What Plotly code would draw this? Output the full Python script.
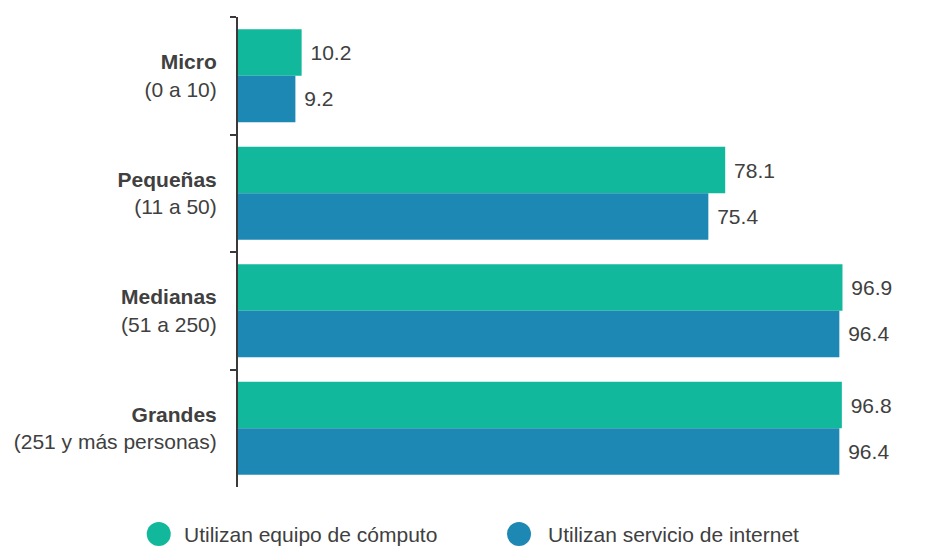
import plotly.graph_objects as go

categories = ["<b>Micro</b><br>(0 a 10)", "<b>Pequeñas</b><br>(11 a 50)",
              "<b>Medianas</b><br>(51 a 250)", "<b>Grandes</b><br>(251 y más personas)"]
equipo = [10.2, 78.1, 96.9, 96.8]
internet = [9.2, 75.4, 96.4, 96.4]
series_names = ["Utilizan equipo de cómputo", "Utilizan servicio de internet"]
colors = ["#12B89C", "#1E88B4"]
text_color = "#404040"
font_family = "Liberation Sans, Arial, sans-serif"

fig = go.Figure()
for vals, name, col in zip([equipo, internet], series_names, colors):
    fig.add_trace(go.Bar(
        y=categories, x=vals, orientation="h", name=name,
        marker=dict(color=col, line=dict(width=0)),
        text=["\u00a0" + f"{v:.1f}" for v in vals], textposition="outside",
        textfont=dict(size=21, color=text_color, family=font_family),
        cliponaxis=False, showlegend=False, hoverinfo="x+y",
    ))

# Legend drawn as circles + labels below the plot
legend_y = -0.1
legend_pos = [(-0.121, -0.085), (0.429, 0.470)]
for (cx, tx), name, col in zip(legend_pos, series_names, colors):
    fig.add_shape(type="circle", xref="paper", yref="paper",
                  xsizemode="pixel", ysizemode="pixel",
                  xanchor=cx, yanchor=legend_y,
                  x0=-12, x1=12, y0=-12, y1=12,
                  fillcolor=col, line=dict(width=0))
    fig.add_annotation(x=tx, y=legend_y, xref="paper", yref="paper",
                       text=name, showarrow=False, xanchor="left", yanchor="middle",
                       font=dict(size=21, color=text_color, family=font_family))

fig.update_layout(
    width=933, height=547,
    margin=dict(l=238, r=40, t=17, b=60),
    paper_bgcolor="white", plot_bgcolor="white",
    barmode="group", bargap=0.21, bargroupgap=0,
    font=dict(family=font_family, size=21, color=text_color),
    showlegend=False,
)
fig.update_xaxes(range=[0, 105], visible=False, showgrid=False, zeroline=False)
fig.update_yaxes(
    autorange="reversed", showgrid=False, zeroline=False,
    showline=True, linecolor="#3a3a3a", linewidth=2,
    ticks="outside", tickson="boundaries", ticklen=6, tickwidth=2, tickcolor="#3a3a3a",
    tickfont=dict(size=21, color=text_color, family=font_family),
    ticklabelstandoff=15,
)

fig.write_html("out.html",
               config={"displayModeBar": False},
               post_script="document.body.style.margin='0';document.body.style.overflow='hidden';")
